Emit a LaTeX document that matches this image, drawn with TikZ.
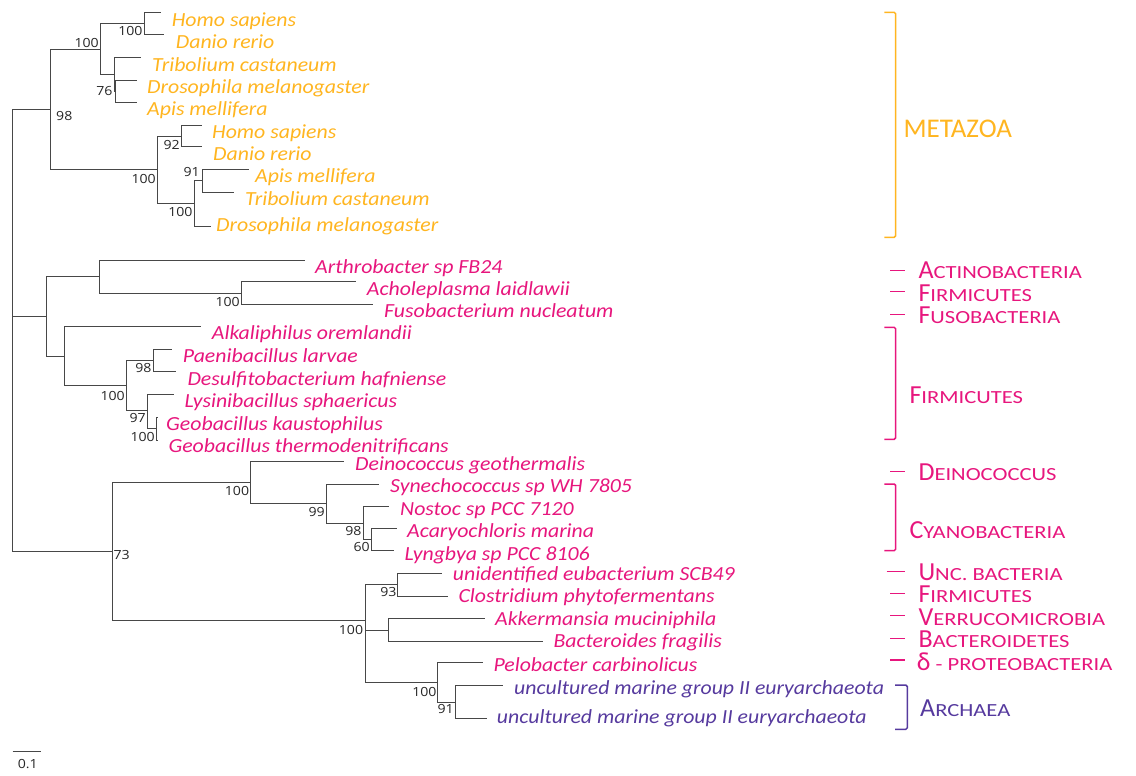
\documentclass[tikz,border=0pt]{standalone}
\usepackage{fontspec}
\setmainfont{Carlito}
\newfontfamily\spf[FakeStretch=1.09]{Carlito}
\newfontfamily\scf[FakeStretch=1.22]{Carlito}
\newfontfamily\bsf[FakeStretch=1.12]{Open Sans}
\definecolor{metaorange}{RGB}{255,181,32}
\definecolor{bacpink}{RGB}{231,22,125}
\definecolor{archpurple}{RGB}{86,58,158}
\newcommand{\smcap}[2]{{\fontsize{26}{26}\selectfont #1}{\scf\fontsize{18.5}{18.5}\selectfont #2}}
\tikzset{
  br/.style={draw=black!72, line width=0.9pt},
  sp/.style={font=\spf\itshape\fontsize{20}{20}\selectfont, anchor=base west, inner sep=0pt},
  bsl/.style={font=\bsf\fontsize{12.6}{12.6}\selectfont, text=black!85, inner sep=0pt, anchor=base east},
  bsr/.style={font=\bsf\fontsize{12.6}{12.6}\selectfont, text=black!85, inner sep=0pt, anchor=base west},
  grp/.style={anchor=base west, inner sep=0pt, text height=16pt, text depth=0pt},
  brk/.style={line width=1.5pt, rounded corners=1.5pt},
}
\begin{document}
\begin{tikzpicture}[x=1pt,y=-1pt]
\useasboundingbox (0,0) rectangle (1136,776);
% ---------- tree coordinates ----------
\coordinate (r) at (12.7,316);
\coordinate (M) at (50.7,109.3);
\coordinate (B1) at (46.7,316);
\coordinate (B2) at (112.3,551.3);
% metazoa
\coordinate (Ma) at (100,49.3);
\coordinate (Mb) at (157.3,169.3);
\coordinate (Ma1) at (144,23.3);
\coordinate (Ma2) at (114.3,74);
\coordinate (Ma3) at (115.6,91.2);
\coordinate (Mb1) at (181,136.2);
\coordinate (Mb2) at (194.3,203.5);
\coordinate (Mb3) at (202.7,180.8);
\coordinate (l1) at (161,12.7);
\coordinate (l2) at (164,34.3);
\coordinate (l3) at (140.7,57.3);
\coordinate (l4) at (137,80);
\coordinate (l5) at (137,102.3);
\coordinate (l6) at (201.7,125.7);
\coordinate (l7) at (202,146.7);
\coordinate (l8) at (249.3,169.3);
\coordinate (l9) at (234.3,192.3);
\coordinate (l10) at (210.7,226.7);
% bacteria 1
\coordinate (B1a) at (99.3,276.3);
\coordinate (B1b) at (64,356);
\coordinate (B1c) at (241.3,293);
\coordinate (B1d) at (126.7,385.5);
\coordinate (B1e) at (153,360.5);
\coordinate (B1f) at (147,410.7);
\coordinate (B1g) at (156,428.8);
\coordinate (l11) at (305,260);
\coordinate (l12) at (356,281.7);
\coordinate (l13) at (373.3,304.3);
\coordinate (l14) at (201,326.7);
\coordinate (l15) at (171.7,349.3);
\coordinate (l16) at (176,371.7);
\coordinate (l17) at (174,394);
\coordinate (l18) at (157.5,417.7);
\coordinate (l19) at (158,440);
% bacteria 2
\coordinate (B2a) at (250.3,482.3);
\coordinate (B2b) at (365,620.7);
\coordinate (B2c) at (326.3,503.3);
\coordinate (B2d) at (363.3,523);
\coordinate (B2e) at (371.4,539.7);
\coordinate (B2f) at (397.7,584.7);
\coordinate (B2g) at (388.3,630);
\coordinate (B2h) at (437.3,682.7);
\coordinate (B2i) at (455,702);
\coordinate (l20) at (344.3,461.3);
\coordinate (l21) at (379.3,484);
\coordinate (l22) at (389,506.7);
\coordinate (l23) at (397,528.7);
\coordinate (l24) at (394.3,550.7);
\coordinate (l25) at (441.7,573.3);
\coordinate (l26) at (448.3,596);
\coordinate (l27) at (485,618.3);
\coordinate (l28) at (542.7,641);
\coordinate (l29) at (482.7,662.7);
\coordinate (l30) at (503.3,685.7);
\coordinate (l31) at (486.7,718.3);
% ---------- branches ----------
\draw[br] (r) |- (M);
\draw[br] (r) |- (B1);
\draw[br] (r) |- (B2);
\draw[br] (M) |- (Ma);
\draw[br] (M) |- (Mb);
\draw[br] (Ma) |- (Ma1);
\draw[br] (Ma) |- (Ma2);
\draw[br] (Ma1) |- (l1);
\draw[br] (Ma1) |- (l2);
\draw[br] (Ma2) |- (l3);
\draw[br] (Ma2) |- (Ma3);
\draw[br] (Ma3) |- (l4);
\draw[br] (Ma3) |- (l5);
\draw[br] (Mb) |- (Mb1);
\draw[br] (Mb) |- (Mb2);
\draw[br] (Mb1) |- (l6);
\draw[br] (Mb1) |- (l7);
\draw[br] (Mb2) |- (Mb3);
\draw[br] (Mb2) |- (l10);
\draw[br] (Mb3) |- (l8);
\draw[br] (Mb3) |- (l9);
\draw[br] (B1) |- (B1a);
\draw[br] (B1) |- (B1b);
\draw[br] (B1a) |- (l11);
\draw[br] (B1a) |- (B1c);
\draw[br] (B1c) |- (l12);
\draw[br] (B1c) |- (l13);
\draw[br] (B1b) |- (l14);
\draw[br] (B1b) |- (B1d);
\draw[br] (B1d) |- (B1e);
\draw[br] (B1d) |- (B1f);
\draw[br] (B1e) |- (l15);
\draw[br] (B1e) |- (l16);
\draw[br] (B1f) |- (l17);
\draw[br] (B1f) |- (B1g);
\draw[br] (B1g) |- (l18);
\draw[br] (B1g) |- (l19);
\draw[br] (B2) |- (B2a);
\draw[br] (B2) |- (B2b);
\draw[br] (B2a) |- (l20);
\draw[br] (B2a) |- (B2c);
\draw[br] (B2c) |- (l21);
\draw[br] (B2c) |- (B2d);
\draw[br] (B2d) |- (l22);
\draw[br] (B2d) |- (B2e);
\draw[br] (B2e) |- (l23);
\draw[br] (B2e) |- (l24);
\draw[br] (B2b) |- (B2f);
\draw[br] (B2b) |- (B2g);
\draw[br] (B2b) |- (B2h);
\draw[br] (B2f) |- (l25);
\draw[br] (B2f) |- (l26);
\draw[br] (B2g) |- (l27);
\draw[br] (B2g) |- (l28);
\draw[br] (B2h) |- (l29);
\draw[br] (B2h) |- (B2i);
\draw[br] (B2i) |- (l30);
\draw[br] (B2i) |- (l31);
% ---------- species labels ----------
\begin{scope}[every node/.append style={sp, text=metaorange}]
\node (t1) at (171.7,26.7) {Homo sapiens};
\node (t2) at (175.7,49) {Danio rerio};
\node (t3) at (152,71) {Tribolium castaneum};
\node (t4) at (147,93.3) {Drosophila melanogaster};
\node (t5) at (147,115.7) {Apis mellifera};
\node (t6) at (212,138.3) {Homo sapiens};
\node (t7) at (213,160.7) {Danio rerio};
\node (t8) at (255,182.7) {Apis mellifera};
\node (t9) at (245,205) {Tribolium castaneum};
\node (t10) at (216,231.7) {Drosophila melanogaster};
\end{scope}
\begin{scope}[every node/.append style={sp, text=bacpink}]
\node (t11) at (315,273.3) {Arthrobacter sp FB24};
\node (t12) at (366.7,295) {Acholeplasma laidlawii};
\node (t13) at (384,317.3) {Fusobacterium nucleatum};
\node (t14) at (211.7,339.3) {Alkaliphilus oremlandii};
\node (t15) at (182.7,362.3) {Paenibacillus larvae};
\node (t16) at (187.3,385) {Desulfitobacterium hafniense};
\node (t17) at (184.3,407.3) {Lysinibacillus sphaericus};
\node (t18) at (166,430) {Geobacillus kaustophilus};
\node (t19) at (168.3,452.7) {Geobacillus thermodenitrificans};
\node (t20) at (355,470.7) {Deinococcus geothermalis};
\node (t21) at (390,492.3) {Synechococcus sp WH 7805};
\node (t22) at (400,515) {Nostoc sp PCC 7120};
\node (t23) at (407,537.3) {Acaryochloris marina};
\node (t24) at (404.3,560) {Lyngbya sp PCC 8106};
\node (t25) at (452.7,580) {unidentified eubacterium SCB49};
\node (t26) at (458.3,602.7) {Clostridium phytofermentans};
\node (t27) at (495,625.7) {Akkermansia muciniphila};
\node (t28) at (553.3,647.7) {Bacteroides fragilis};
\node (t29) at (493.3,671.7) {Pelobacter carbinolicus};
\end{scope}
\begin{scope}[every node/.append style={sp, text=archpurple}]
\node (t30) at (514,694.3) {uncultured marine group II euryarchaeota};
\node (t31) at (496.7,723.3) {uncultured marine group II euryarchaeota};
\end{scope}
% ---------- bootstrap values ----------
\node[bsl] (b1) at (99,47.7) {100};
\node[bsl] (b2) at (142.7,36) {100};
\node[bsl] (b3) at (112.7,95.7) {76};
\node[bsr] (b4) at (56,120.7) {98};
\node[bsl] (b5) at (180,149) {92};
\node[bsl] (b6) at (156,183.3) {100};
\node[bsl] (b7) at (200,176.7) {91};
\node[bsl] (b8) at (192.7,216.7) {100};
\node[bsl] (b9) at (240,306) {100};
\node[bsl] (b10) at (151.7,372.7) {98};
\node[bsl] (b11) at (125,400) {100};
\node[bsl] (b12) at (146,422.7) {97};
\node[bsl] (b13) at (155,441) {100};
\node[bsl] (b14) at (249.3,495.7) {100};
\node[bsl] (b15) at (325,516.7) {99};
\node[bsl] (b16) at (361.7,535.7) {98};
\node[bsl] (b17) at (370,551.7) {60};
\node[bsr] (b18) at (113.3,559) {73};
\node[bsl] (b19) at (363.3,634) {100};
\node[bsl] (b20) at (396.7,596.7) {93};
\node[bsl] (b21) at (436.7,696) {100};
\node[bsl] (b22) at (454,713.3) {91};
% ---------- scale bar ----------
\coordinate (s1) at (12.7,751.7);
\coordinate (s2) at (40.7,751.7);
\draw[br] (s1) -- (s2);
\node[font=\bsf\fontsize{12.6}{12.6}\selectfont, text=black!85, inner sep=0pt, anchor=base] (sc) at (27.7,768) {0.1};
% ---------- group brackets ----------
\draw[brk, metaorange] (884.3,12.3) -- (895.7,12.3) -- (895.7,237.3) -- (884.3,237.3);
\node[grp, text=metaorange, font=\fontsize{27}{27}\selectfont] (g1) at (903.3,137.3) {METAZOA};
\begin{scope}[bacpink]
\draw[line width=1.5pt] (890,270.7) -- (905,270.7);
\node[grp] (g2) at (918.3,278.3) {\smcap{A}{CTINOBACTERIA}};
\draw[line width=1.5pt] (890,291.7) -- (905,291.7);
\node[grp] (g3) at (918.3,301) {\smcap{F}{IRMICUTES}};
\draw[line width=1.5pt] (890,314.3) -- (905,314.3);
\node[grp] (g4) at (918.3,323.3) {\smcap{F}{USOBACTERIA}};
\draw[brk] (884.3,327.3) -- (895.7,327.3) -- (895.7,439.3) -- (884.3,439.3);
\node[grp] (g5) at (909.3,403.3) {\smcap{F}{IRMICUTES}};
\draw[line width=1.5pt] (890,471.7) -- (905,471.7);
\node[grp] (g6) at (918.3,480.7) {\smcap{D}{EINOCOCCUS}};
\draw[brk] (884.3,484) -- (895.7,484) -- (895.7,550.7) -- (884.3,550.7);
\node[grp] (g7) at (909.3,538.3) {\smcap{C}{YANOBACTERIA}};
\draw[line width=1.5pt] (886.7,571.7) -- (905,571.7);
\node[grp] (g8) at (918.3,580) {\smcap{U}{NC. BACTERIA}};
\draw[line width=1.5pt] (890,593.3) -- (905,593.3);
\node[grp] (g9) at (918.3,602.3) {\smcap{F}{IRMICUTES}};
\draw[line width=1.5pt] (890,615.7) -- (905,615.7);
\node[grp] (g10) at (918.3,625) {\smcap{V}{ERRUCOMICROBIA}};
\draw[line width=1.5pt] (890,638.3) -- (905,638.3);
\node[grp] (g11) at (918.3,647.3) {\smcap{B}{ACTEROIDETES}};
\draw[line width=1.5pt] (890,660) -- (905,660);
\node[grp] (g12) at (916.7,670) {\smcap{δ}{ - PROTEOBACTERIA}};
\end{scope}
\draw[brk, archpurple] (895,685) -- (907.3,685) -- (907.3,729.3) -- (895,729.3);
\node[grp, text=archpurple] (g13) at (920,716) {\smcap{A}{RCHAEA}};
\end{tikzpicture}
\end{document}
